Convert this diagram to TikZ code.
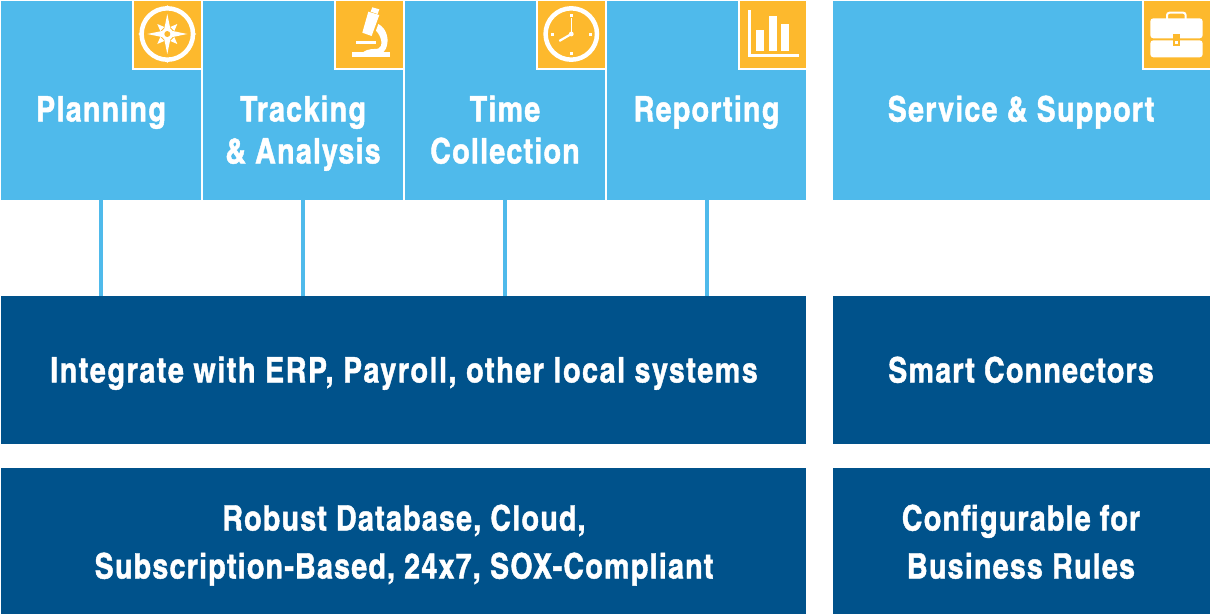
\documentclass[tikz,border=0pt]{standalone}
\usepackage{fontspec}
\setmainfont[LetterSpace=3.4,BoldFont={* Bold},BoldFeatures={FakeBold=1.2}]{TeX Gyre Heros Cn}
\definecolor{sky}{HTML}{4FBAEB}
\definecolor{navy}{HTML}{00528B}
\definecolor{amber}{HTML}{FDB92D}
\newcommand{\lnstrut}{\rule[-8pt]{0pt}{33pt}}
\tikzset{
  box/.style={anchor=north west,inner sep=0pt,outer sep=0pt,draw=none},
  lightbox/.style={box,fill=sky,minimum height=199pt},
  darkbox/.style={box,fill=navy},
  tab/.style={box,fill=amber,minimum width=68pt,minimum height=68pt},
  label/.style={align=center,text=white,font=\fontsize{35}{42}\selectfont\bfseries,inner sep=0pt},
  darklabel/.style={label,font=\fontsize{35}{48}\selectfont\bfseries},
  link/.style={draw=sky,line width=4pt},
  edge/.style={draw=white,line width=2pt},
  icon/.style={fill=white,draw=none},
  iconline/.style={draw=white,line width=4.5pt},
}
\begin{document}
\begin{tikzpicture}[x=1pt,y=-1pt]
\useasboundingbox (0,0) rectangle (1211,614);
% top boxes
\node[lightbox,minimum width=200pt] (plan) at (1,1) {};
\node[lightbox,minimum width=200pt] (track) at (203,1) {};
\node[lightbox,minimum width=200pt] (time) at (405,1) {};
\node[lightbox,minimum width=199pt] (report) at (607,1) {};
\node[lightbox,minimum width=377pt] (service) at (833,1) {};
% lower boxes
\node[darkbox,minimum width=805pt,minimum height=148pt] (integrate) at (1,296) {};
\node[darkbox,minimum width=377pt,minimum height=148pt] (smart) at (833,296) {};
\node[darkbox,minimum width=805pt,minimum height=146pt] (robust) at (1,468) {};
\node[darkbox,minimum width=377pt,minimum height=146pt] (config) at (833,468) {};
% connectors
\draw[link] (plan.south) -- (plan.south |- integrate.north);
\draw[link] (track.south) -- (track.south |- integrate.north);
\draw[link] (time.south) -- (time.south |- integrate.north);
\draw[link] (report.south) -- (report.south |- integrate.north);
% labels
\node[label] (tplan) at (101,112.5) {\lnstrut Planning};
\node[label] (ttrack) at (303,133.5) {\lnstrut Tracking\\\lnstrut\&~Analysis};
\node[label] (ttime) at (505,133.5) {\lnstrut Time\\\lnstrut Collection};
\node[label] (treport) at (706.5,112.5) {\lnstrut Reporting};
\node[label] (tservice) at (1021,112.5) {\lnstrut Service \& Support};
\node[label] (tintegrate) at (404,373.5) {\addfontfeature{LetterSpace=4.4}\lnstrut Integrate with ERP, Payroll, other local systems};
\node[label] (tsmart) at (1021,373.5) {\lnstrut Smart Connectors};
\node[darklabel] (trobust) at (404,545.5) {\lnstrut Robust Database, Cloud,\\\lnstrut Subscription-Based, 24x7, SOX-Compliant};
\node[darklabel] (tconfig) at (1021,545.5) {\lnstrut Configurable for\\\lnstrut Business Rules};
% tabs
\node[tab] (tab1) at (133,1) {};
\node[tab] (tab2) at (335,1) {};
\node[tab] (tab3) at (537,1) {};
\node[tab,minimum width=67pt] (tab4) at (739,1) {};
\node[tab,minimum width=67pt] (tab5) at (1143,1) {};
\foreach \t in {tab1,tab2,tab3,tab4,tab5}{
  \draw[edge,line cap=rect] (\t.north west) -- (\t.south west) -- (\t.south east);
}
% compass
\begin{scope}[shift={(167.3,34)}]
  \draw[iconline] (0,0) circle (25.7);
  \fill[white] (0,-29) -- (3,-24) -- (-3,-24) -- cycle;
  \fill[white] (0,29) -- (3,24) -- (-3,24) -- cycle;
  \fill[white] (-29,0) -- (-24,3) -- (-24,-3) -- cycle;
  \fill[white] (29,0) -- (24,3) -- (24,-3) -- cycle;
  \fill[white] (0,-20) -- (3.4,-3.4) -- (20,0) -- (3.4,3.4) -- (0,20) -- (-3.4,3.4) -- (-20,0) -- (-3.4,-3.4) -- cycle;
  \fill[white] (3,-7) -- (10,-10) -- (7,-3) -- cycle;
  \fill[white] (7,3) -- (10,10) -- (3,7) -- cycle;
  \fill[white] (-3,7) -- (-10,10) -- (-7,3) -- cycle;
  \fill[white] (-7,-3) -- (-10,-10) -- (-3,-7) -- cycle;
  \fill[white] (0,0) circle (6);
  \fill[amber] (0,0) circle (3);
\end{scope}
% microscope
\begin{scope}[shift={(120,0)},x=0.3333pt,y=-0.3333pt]
  \fill[white] (757,22) -- (778,28) -- (773,42) -- (752,35) -- cycle;
  \fill[white] (745,35) -- (778,45) -- (755,108) -- (727,98) -- cycle;
  \fill[white] (708,122) rectangle (768,132);
  \fill[white] (696,155) rectangle (810,172);
  \fill[white] (728,157) .. controls (745,145) and (760,148) .. (775,146) .. controls (790,140) and (786,110) .. (768,92) -- (775,72) .. controls (800,85) and (805,115) .. (802,130) .. controls (800,145) and (795,152) .. (790,157) -- cycle;
\end{scope}
% clock
\begin{scope}[shift={(571.3,34)}]
  \draw[iconline] (0,0) circle (25.7);
  \fill[white] (-1.5,-20.5) rectangle (1.5,-17.5);
  \fill[white] (-1.5,17.5) rectangle (1.5,20.5);
  \fill[white] (-20.5,-1.5) rectangle (-17.5,1.5);
  \fill[white] (17.5,-1.5) rectangle (20.5,1.5);
  \draw[white,line width=1.6pt] (0,0) -- (0,-16);
  \draw[white,line width=2.2pt] (0,0) -- (-12,7);
  \fill[white] (0,0) circle (2.4);
\end{scope}
% chart
\begin{scope}[shift={(520,0)},x=0.3333pt,y=-0.3333pt]
  \fill[white] (685,30) rectangle (693,172);
  \fill[white] (685,163) rectangle (837,172);
  \fill[white] (708,90) rectangle (732,153);
  \fill[white] (747,48) rectangle (771,153);
  \fill[white] (783,72) rectangle (807,153);
\end{scope}
% briefcase
\begin{scope}[shift={(1120,0)},x=0.3333pt,y=-0.3333pt]
  \draw[white,line width=2pt,rounded corners=2.5pt] (141,58) -- (141,38) -- (197,38) -- (197,58);
  \fill[white,rounded corners=3pt] (91,55) rectangle (248,115);
  \fill[white,rounded corners=3pt] (91,121) rectangle (248,172);
  \fill[amber] (160,103) rectangle (180,137);
  \fill[white] (165,122) rectangle (175,133);
\end{scope}
\end{tikzpicture}
\end{document}
